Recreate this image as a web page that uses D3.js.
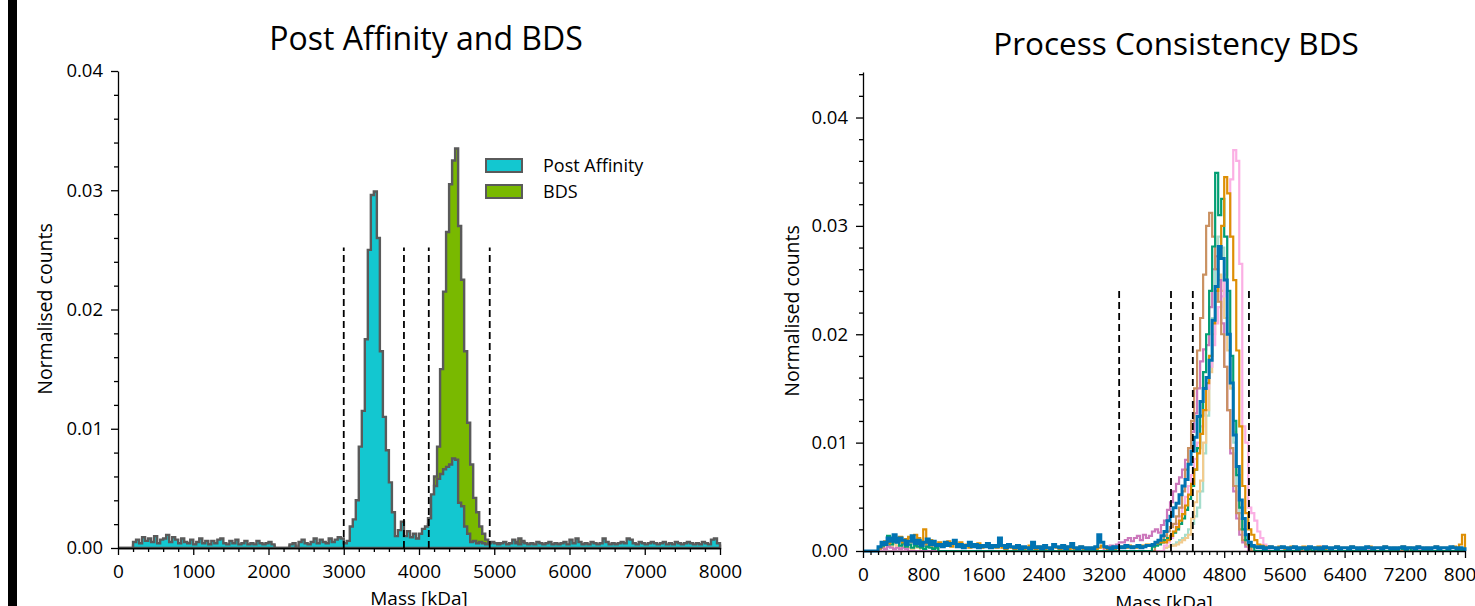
<!DOCTYPE html>
<html>
<head>
<meta charset="utf-8">
<script src="https://cdn.jsdelivr.net/npm/d3@7"></script>
<style>
  body { margin: 0; background: #fff; }
  svg text { font-family: "Open Sans", sans-serif; fill: #000; }
</style>
</head>
<body>
<svg id="chart" width="1475" height="606"></svg>
<script>
'use strict';

// ---- data -------------------------------------------------------------
var binWidth = 40;          // kDa per histogram bin
var nBins = 200;            // 0 .. 8000 kDa
var countUnit = 1e-4;       // stored counts are normalised counts x 1e4

var leftMassTicks = [0, 1000, 2000, 3000, 4000, 5000, 6000, 7000, 8000];
var rightMassTicks = [0, 800, 1600, 2400, 3200, 4000, 4800, 5600, 6400, 7200, 8000];
var countTicks = [0, 0.01, 0.02, 0.03, 0.04];

var leftGates = [3000, 3800, 4130, 4940];
var rightGates = [3404, 4093, 4383, 5129];

// left panel, one value per 40 kDa bin starting at 0
var postAffinity = [
  0, 0, 0, 0, 0,
  5, 7, 4, 9, 6, 8, 5, 10, 4, 7, 8, 11, 5, 9, 7, 4, 8, 5, 4, 7,
  3, 5, 8, 4, 6, 3, 6, 4, 7, 8, 4, 3, 6, 4, 7, 3, 4, 6, 3, 4, 3, 6, 4, 3, 4,
  5, 3, 0, 0, 0, 0, 0, 3, 4, 0, 5, 7, 4, 3, 5, 8, 4, 7, 5, 4, 8, 5, 7, 9, 8,
  4, 6, 18, 24, 40, 85, 115, 175, 250, 296, 299, 260, 165, 110, 82, 55, 30, 10,
  15, 22, 10, 14, 9, 12, 8, 12, 16, 18,
  25, 45, 52, 58, 62, 66, 68, 70, 75, 74, 38, 35, 18, 12, 5,
  6, 4, 5, 4, 3, 4, 5,
  4, 3, 4, 5, 3, 4, 7, 4, 3, 5, 4, 3, 4, 3, 5, 4, 3, 4, 5, 3, 4, 3, 4, 5, 3,
  7, 4, 8, 5, 3, 4, 3, 5, 4, 3, 4, 8, 5, 3, 4, 3, 4, 5, 4, 8, 7, 4, 3, 5, 4,
  3, 4, 5, 4, 3, 4, 5, 3, 4, 3, 5, 4, 3, 4, 5, 4, 3, 4, 3, 5, 4, 3, 7, 8, 4
];
var bds = [
  0, 0, 0, 0, 0,
  2, 3, 2, 4, 2, 3, 2, 3, 2, 2, 3, 4, 2, 3, 2, 2, 3, 2, 2, 3,
  2, 2, 3, 2, 2, 3, 2, 2, 3, 2, 2, 2, 3, 2, 2, 2, 2, 3, 2, 2, 2, 2, 3, 2, 2,
  2, 2, 0, 0, 0, 0, 0, 2, 2, 0, 2, 3, 2, 2, 3, 2, 2, 3, 2, 2, 3, 2, 3, 2, 3,
  2, 3, 2, 3, 4, 3, 2, 3, 2, 3, 2, 3, 4, 3, 2, 3, 4, 5, 6, 5, 4, 5, 6, 5, 6, 8, 5,
  8, 20, 40, 60, 85, 150, 215, 265, 305, 325, 335, 270, 225, 165, 105, 70, 42, 30, 18, 12, 7, 4, 3,
  3, 4, 3, 2, 3, 4, 3, 5, 8, 6, 3, 2, 3, 2, 2, 3, 2, 2, 3, 2, 2, 3, 2, 2, 2,
  2, 3, 2, 2, 3, 2, 2, 2, 3, 2, 2, 3, 2, 2, 2, 3, 2, 2, 2, 3, 2, 2, 2, 3, 2,
  2, 2, 3, 2, 2, 2, 3, 2, 2, 2, 3, 2, 2, 2, 3, 2, 2, 2, 3, 2, 2, 2, 3, 4, 2
];

// right panel, runs of [first bin, values]; bins not listed are empty
var runsBlue = [[5, [
  4, 8, 6, 12, 9, 15, 8, 12, 10, 6, 9, 14, 7, 10, 5, 8, 11, 6, 9, 5,
  6, 4, 8, 5, 7, 10, 4, 6, 3, 5, 8, 4, 6, 3, 5, 4, 7, 3, 5, 4,
  12, 5, 3, 6, 4, 3, 5, 2, 4, 3, 2, 8, 3, 4, 2, 5, 3, 2, 6, 4,
  3, 5, 2, 4, 7, 3, 2, 4, 3, 2, 3, 2, 4, 15, 8, 4, 3, 2, 4, 3,
  4, 3, 5, 4, 3, 4, 5, 3, 4, 5, 5,
  6, 8, 10, 14, 18, 28, 32, 40, 44, 52, 60, 66, 80, 92, 105, 124, 138, 150, 160, 176,
  213, 244, 281, 270, 250, 200, 155, 107, 78, 47, 30, 15, 8, 5, 4,
  3, 4, 2, 3, 4, 3, 2, 3, 4, 3, 2, 3, 4, 2, 3, 3, 2, 4, 3, 2, 3, 2, 4, 3, 2,
  3, 4, 2, 3, 3, 2, 4, 3, 2, 3, 2, 4, 3, 2, 3, 3, 2, 4, 3, 2, 3, 2, 3, 4, 2,
  3, 3, 2, 4, 3, 2, 3, 2, 3, 4, 2, 3, 3, 2, 4, 3, 2, 3, 2
]]];
var runsOrange = [[5, [
  3, 6, 9, 7, 12, 14, 10, 13, 8, 11, 13, 10, 15, 12, 9, 20, 7, 10, 8, 6,
  8, 5, 6, 9, 4, 7, 5, 8, 4, 6, 3, 5, 4, 7, 3, 5, 4, 3, 4, 3,
  5, 3, 2, 4, 3, 2, 4, 3, 2, 3, 5, 3, 2, 4, 3, 2, 3, 2, 4, 3,
  2, 3, 4, 2, 3, 2, 3, 4, 2, 3, 2, 3, 2, 3, 5, 3, 2, 3, 2, 3,
  3, 4, 3, 5, 4, 3, 4, 5, 4, 6, 5,
  6, 7, 8, 8,
  8, 10, 14, 18, 22, 28, 34, 42, 52, 62, 75, 90, 108, 130, 155, 180, 210, 240, 270, 300,
  345, 330, 290, 250, 185, 115, 60, 35, 20, 15, 10, 6, 5, 4, 3, 4,
  3, 2, 4, 3, 2, 3, 4, 3, 2, 3, 4, 2, 3, 3, 2, 4, 3, 2, 3, 2, 3, 4, 2, 3, 3,
  2, 4, 3, 2, 3, 2, 3, 4, 2, 3, 3, 2, 4, 3, 2, 3, 2, 3, 4, 2, 3, 3, 2, 4, 3,
  2, 3, 2, 3, 4, 2, 3, 3, 2, 3, 4, 3, 6, 15
]]];
var runsGreen = [
  [5, [3, 5, 8, 14, 6, 9, 12, 5, 7, 4, 6, 3, 5, 4, 3, 2, 4, 3, 2, 3]],
  [96, [4, 5, 6, 8, 10, 12, 14, 17, 20, 25, 30, 38, 48, 60, 75, 95, 125, 165, 200, 240,
        281, 349, 310, 325, 290, 240, 180, 120, 70, 40, 20, 10, 6, 4]],
  [145, [2, 3, 0, 2, 0, 3]],
  [178, [3, 2, 0, 3]]
];
var runsBrown = [
  [5, [2, 4, 6, 10, 8, 12, 9, 11, 7, 9, 12, 8, 10, 6, 5, 7, 4, 5, 3, 4]],
  [97, [8, 10, 10, 14, 18, 22, 25, 32, 40, 55, 75, 95, 120, 150, 185, 215, 255, 300, 312, 290,
        260, 230, 200, 170, 130, 95, 60, 35, 20, 10, 6, 4]]
];
var runsPurple = [
  [5, [2, 3, 2, 4, 3, 2, 3, 2, 3, 2]],
  [80, [3, 4, 5, 4, 6, 8, 8, 10, 12, 9, 12, 14, 10, 15, 12, 14, 18, 20, 17, 24,
        28, 38, 45, 55, 62, 68, 75, 84, 95, 110, 127, 150, 175, 186, 190, 225, 260, 272, 250, 210,
        170, 130, 90, 55, 30, 15, 8, 4]]
];
var runsPink = [
  [100, [5, 8, 12, 18, 25, 32, 40, 50, 60, 70, 85, 100, 115, 130, 150, 170, 190, 210, 225, 235,
         255, 290, 343, 370, 360, 265, 115, 100, 40, 35, 28, 18, 12, 6, 4]],
  [150, [3, 0, 4, 0, 0, 2]],
  [168, [2, 3, 0, 0, 3]],
  [184, [3, 2, 0, 2]]
];
var runsPaleOrange = [
  [5, [3, 4, 6, 5, 4, 7, 5, 3, 4, 6, 3, 2, 4, 3]],
  [100, [3, 4, 5, 5, 6, 8, 10, 12, 15, 30, 45, 55, 65, 100, 130, 165, 200, 230, 255, 240,
         215, 185, 150, 110, 70, 40, 20, 10, 5]]
];
var runsPaleTeal = [
  [100, [3, 4, 5, 6, 8, 10, 12, 15, 20, 25, 32, 40, 55, 90, 125, 170, 215, 260, 290, 280,
         250, 200, 150, 100, 60, 35, 20, 10, 5]]
];

// ---- helpers ----------------------------------------------------------
function expand(runs) {
  var bins = new Array(nBins).fill(0);
  runs.forEach(function (run) {
    run[1].forEach(function (v, i) { bins[run[0] + i] = v; });
  });
  return bins;
}

// step points in data space: [mass, normalised count]
function stepPoints(bins) {
  var pts = [[0, 0]];
  bins.forEach(function (v, i) { pts.push([i * binWidth, v * countUnit]); });
  pts.push([bins.length * binWidth, bins[bins.length - 1] * countUnit]);
  pts.push([bins.length * binWidth, 0]);
  return pts;
}

function styleAxis(g, fontSize) {
  g.attr('font-family', '"Open Sans", sans-serif').attr('font-size', fontSize);
  g.selectAll('path, line').attr('stroke', '#000').attr('stroke-width', 1.3);
}

function drawAxes(g, x, y, xTicks, xMinor, yMax) {
  var y0 = y(0), x0 = x(0);
  var yMinor = d3.range(0, yMax + 1e-9, 0.002).filter(function (v) {
    return Math.round(v * 1000) % 10 !== 0;
  });

  g.append('g').attr('transform', 'translate(0,' + y0 + ')')
    .call(d3.axisBottom(x).tickValues(xMinor).tickFormat('').tickSize(4).tickSizeOuter(0))
    .call(function (s) { s.select('.domain').remove(); styleAxis(s, 19); });
  g.append('g').attr('transform', 'translate(0,' + y0 + ')')
    .call(d3.axisBottom(x).tickValues(xTicks).tickFormat(d3.format('d'))
      .tickSize(7).tickPadding(10).tickSizeOuter(0))
    .call(function (s) { styleAxis(s, 19); });

  g.append('g').attr('transform', 'translate(' + x0 + ',0)')
    .call(d3.axisLeft(y).tickValues(yMinor).tickFormat('').tickSize(4).tickSizeOuter(0))
    .call(function (s) { s.select('.domain').remove(); styleAxis(s, 19); });
  g.append('g').attr('transform', 'translate(' + x0 + ',0)')
    .call(d3.axisLeft(y).tickValues(countTicks).tickFormat(d3.format('.2f'))
      .tickSize(7).tickPadding(8).tickSizeOuter(0))
    .call(function (s) { styleAxis(s, 18.5); });
}

function drawGates(g, x, y, gates, top) {
  g.selectAll(null).data(gates).enter().append('line')
    .attr('x1', function (d) { return x(d); })
    .attr('x2', function (d) { return x(d); })
    .attr('y1', y(0))
    .attr('y2', y(top))
    .attr('stroke', '#000')
    .attr('stroke-width', 1.8)
    .attr('stroke-dasharray', '7,4');
}

// ---- page -------------------------------------------------------------
var svg = d3.select('#chart');

svg.append('rect').attr('x', 8).attr('y', 0).attr('width', 9).attr('height', 606).attr('fill', '#000');

// left: Post Affinity and BDS
var xL = d3.scaleLinear().domain([0, 8000]).range([118, 720]);
var yL = d3.scaleLinear().domain([0, 0.04]).range([548, 71]);
var lineL = d3.line().x(function (d) { return xL(d[0]); }).y(function (d) { return yL(d[1]); })
  .curve(d3.curveStepAfter);

var left = svg.append('g');
var leftSeries = [
  { name: 'BDS', bins: bds, fill: '#79b900' },
  { name: 'Post Affinity', bins: postAffinity, fill: '#13c7d0' }
];
left.selectAll('path.hist').data(leftSeries).enter().append('path')
  .attr('class', 'hist')
  .attr('d', function (d) { return lineL(stepPoints(d.bins)) + 'Z'; })
  .attr('fill', function (d) { return d.fill; })
  .attr('stroke', '#5a5a5a')
  .attr('stroke-width', 2.4);

drawGates(left, xL, yL, leftGates, 0.0252);
drawAxes(left, xL, yL, leftMassTicks,
  d3.range(0, 8001, 200).filter(function (v) { return v % 1000 !== 0; }), 0.04);

left.append('text').attr('x', 426).attr('y', 50).attr('text-anchor', 'middle')
  .attr('font-size', 32).text('Post Affinity and BDS');
left.append('text').attr('x', 419).attr('y', 605).attr('text-anchor', 'middle')
  .attr('font-size', 19).text('Mass [kDa]');
left.append('text').attr('transform', 'translate(45,309) rotate(-90)').attr('dy', '0.35em')
  .attr('text-anchor', 'middle').attr('font-size', 19.5).text('Normalised counts');

// legend
var legend = left.append('g');
var legendRows = legend.selectAll('g').data(leftSeries.slice().reverse()).enter().append('g')
  .attr('transform', function (d, i) { return 'translate(486,' + (159 + i * 26) + ')'; });
legendRows.append('rect').attr('width', 36).attr('height', 13)
  .attr('fill', function (d) { return d.fill; })
  .attr('stroke', '#5a5a5a').attr('stroke-width', 2);
legendRows.append('text').attr('x', 57).attr('y', 12.5).attr('font-size', 18)
  .text(function (d) { return d.name; });

// right: Process Consistency BDS
var xR = d3.scaleLinear().domain([0, 8000]).range([863, 1465]);
var yR = d3.scaleLinear().domain([0, 0.0442]).range([551, 72]);
var lineR = d3.line().x(function (d) { return xR(d[0]); }).y(function (d) { return yR(d[1]); })
  .curve(d3.curveStepAfter);

var rightSeries = [
  { runs: runsPaleTeal, color: '#a5ddcc', width: 2.2 },
  { runs: runsPaleOrange, color: '#f2cb8e', width: 2.2 },
  { runs: runsPink, color: '#fbafe4', width: 2.2 },
  { runs: runsPurple, color: '#cc78bc', width: 2.2 },
  { runs: runsBrown, color: '#ca9161', width: 2.2 },
  { runs: runsGreen, color: '#029e73', width: 2.2 },
  { runs: runsOrange, color: '#de8f05', width: 2.2 },
  { runs: runsBlue, color: '#0173b2', width: 3 }
];

var right = svg.append('g');
right.selectAll('path.hist').data(rightSeries).enter().append('path')
  .attr('class', 'hist')
  .attr('d', function (d) { return lineR(stepPoints(expand(d.runs))); })
  .attr('fill', 'none')
  .attr('stroke', function (d) { return d.color; })
  .attr('stroke-width', function (d) { return d.width; });

drawGates(right, xR, yR, rightGates, 0.024);
drawAxes(right, xR, yR, rightMassTicks,
  d3.range(0, 8001, 100).filter(function (v) { return v % 800 !== 0; }), 0.0442);

right.append('text').attr('x', 1176).attr('y', 55).attr('text-anchor', 'middle')
  .attr('font-size', 31.5).text('Process Consistency BDS');
right.append('text').attr('x', 1164).attr('y', 609).attr('text-anchor', 'middle')
  .attr('font-size', 19).text('Mass [kDa]');
right.append('text').attr('transform', 'translate(792,311) rotate(-90)').attr('dy', '0.35em')
  .attr('text-anchor', 'middle').attr('font-size', 19.5).text('Normalised counts');
</script>
</body>
</html>
